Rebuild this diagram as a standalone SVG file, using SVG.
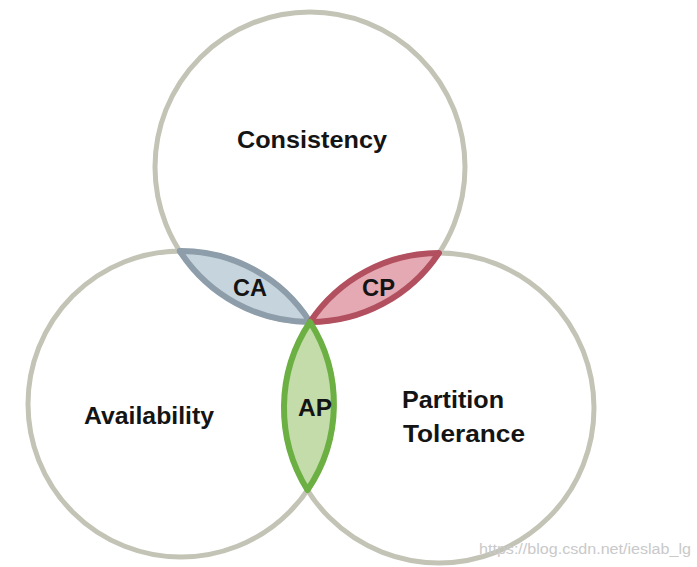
<svg xmlns="http://www.w3.org/2000/svg" width="697" height="567" viewBox="0 0 697 567">
  <style>
    .ring { fill: none; stroke: #c3c4b6; stroke-width: 5; }
    .lbl { font-family: "Liberation Sans", Arial, sans-serif; font-weight: bold; font-size: 24px; fill: #141414; }
    .lens { stroke-width: 6; stroke-linejoin: round; }
    .wm { font-family: "Liberation Sans", Arial, sans-serif; font-size: 14px; fill: #c9c9c9; }
  </style>
  <rect width="697" height="567" fill="#ffffff"/>
  <g id="consistency">
    <circle class="ring" cx="310" cy="167" r="155"/>
    <text class="lbl" x="237" y="148" textLength="150" lengthAdjust="spacingAndGlyphs">Consistency</text>
  </g>
  <g id="availability">
    <circle class="ring" cx="181" cy="404" r="153"/>
    <text class="lbl" x="84" y="424" textLength="130" lengthAdjust="spacingAndGlyphs">Availability</text>
  </g>
  <g id="partition-tolerance">
    <circle class="ring" cx="439" cy="408" r="155"/>
    <text class="lbl" x="402" y="408" textLength="102" lengthAdjust="spacingAndGlyphs">Partition</text>
    <text class="lbl" x="403" y="442" textLength="122" lengthAdjust="spacingAndGlyphs">Tolerance</text>
  </g>
  <g id="ca">
    <path class="lens" fill="#c6d4dd" stroke="#8e9daa" d="M179.7,251 A155,155 0 0 0 310,322 A153,153 0 0 0 179.7,251 Z"/>
    <text class="lbl" x="233" y="296" textLength="34" lengthAdjust="spacingAndGlyphs">CA</text>
  </g>
  <g id="cp">
    <path class="lens" fill="#e4a9b3" stroke="#b2505f" d="M310,322 A155,155 0 0 0 438.9,253 A155,155 0 0 0 310,322 Z"/>
    <text class="lbl" x="362" y="296" textLength="33" lengthAdjust="spacingAndGlyphs">CP</text>
  </g>
  <g id="ap">
    <path class="lens" fill="#c3dca9" stroke="#6cb043" d="M310,322 A153,153 0 0 1 307.5,490 A155,155 0 0 1 310,322 Z"/>
    <text class="lbl" x="298" y="416" textLength="34" lengthAdjust="spacingAndGlyphs">AP</text>
  </g>
  <g id="connectors"></g>
  <text class="wm" x="479" y="554" textLength="212" lengthAdjust="spacingAndGlyphs">https://blog.csdn.net/ieslab_lg</text>
</svg>
